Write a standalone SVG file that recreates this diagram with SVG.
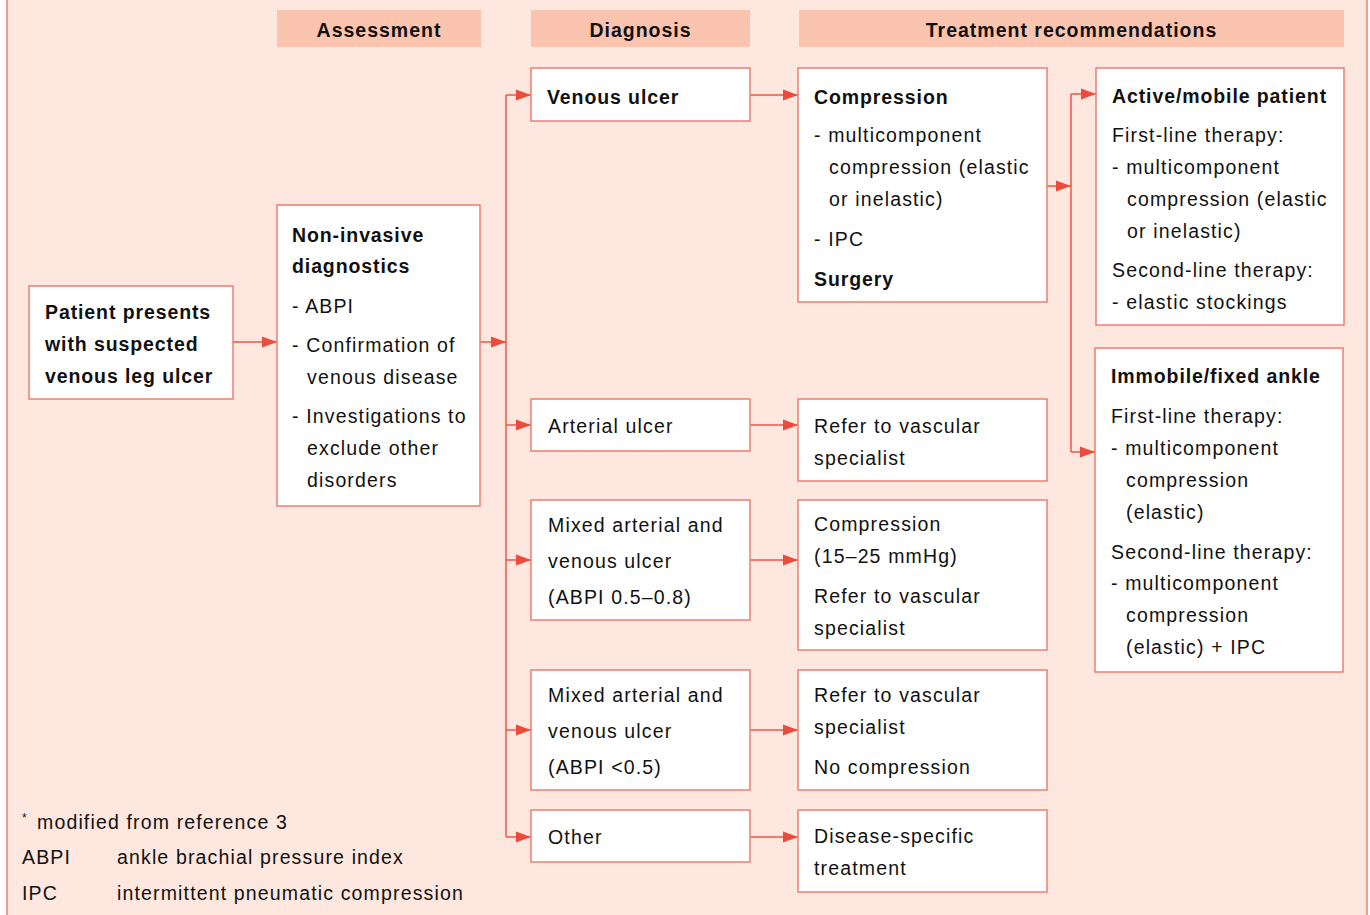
<svg xmlns="http://www.w3.org/2000/svg" width="1370" height="915" viewBox="0 0 1370 915">
<defs>
<marker id="ah" markerUnits="userSpaceOnUse" markerWidth="15" markerHeight="12" refX="15" refY="6" orient="auto">
<path d="M0,0.5 L15,6 L0,11.5 z" fill="#EB4B3C"/>
</marker>
<style>
text{font-family:"Liberation Sans",Arial,sans-serif;font-size:19.5px;letter-spacing:1.15px;fill:#111;}
.b{font-weight:bold;letter-spacing:0.9px;}
.box{fill:#fff;stroke:#F07C70;stroke-width:1.5;}
.hdr{fill:#FBC4AF;}
.c{fill:none;stroke:#EE5545;stroke-width:1.5;}
.ca{fill:none;stroke:#EE5545;stroke-width:1.5;marker-end:url(#ah);}
.h{text-anchor:middle;font-weight:bold;letter-spacing:1px;}
</style>
</defs>
<rect x="0" y="0" width="1370" height="915" fill="#fff"/>
<rect x="7" y="-5" width="1360" height="930" fill="#FDE7DE" stroke="#F07C70" stroke-width="1.5"/>

<g id="headers">
<rect class="hdr" x="277" y="10" width="204" height="37"/>
<text class="h" x="379" y="36.5">Assessment</text>
<rect class="hdr" x="531" y="10" width="219" height="37"/>
<text class="h" x="640.5" y="36.5">Diagnosis</text>
<rect class="hdr" x="799" y="10" width="545" height="37"/>
<text class="h" x="1071.5" y="36.5">Treatment recommendations</text>
</g>

<g id="connectors">
<line class="ca" x1="233" y1="342" x2="277" y2="342"/>
<line class="ca" x1="480" y1="342" x2="506" y2="342"/>
<line class="c" x1="506" y1="95" x2="506" y2="837"/>
<line class="ca" x1="506" y1="95" x2="531" y2="95"/>
<line class="ca" x1="506" y1="425" x2="531" y2="425"/>
<line class="ca" x1="506" y1="560" x2="531" y2="560"/>
<line class="ca" x1="506" y1="730" x2="531" y2="730"/>
<line class="ca" x1="506" y1="837" x2="531" y2="837"/>
<line class="ca" x1="750" y1="95" x2="798" y2="95"/>
<line class="ca" x1="750" y1="425" x2="798" y2="425"/>
<line class="ca" x1="750" y1="560" x2="798" y2="560"/>
<line class="ca" x1="750" y1="730" x2="798" y2="730"/>
<line class="ca" x1="750" y1="837" x2="798" y2="837"/>
<line class="ca" x1="1047" y1="186" x2="1071" y2="186"/>
<line class="c" x1="1071" y1="94" x2="1071" y2="452"/>
<line class="ca" x1="1071" y1="94" x2="1096" y2="94"/>
<line class="ca" x1="1071" y1="452" x2="1095" y2="452"/>
</g>

<g id="patient">
<rect class="box" x="29" y="286" width="204" height="113"/>
<text class="b" x="45" y="319">Patient presents</text>
<text class="b" x="45" y="351">with suspected</text>
<text class="b" x="45" y="383">venous leg ulcer</text>
</g>

<g id="noninvasive">
<rect class="box" x="277" y="205" width="203" height="301"/>
<text class="b" x="292" y="241.5">Non-invasive</text>
<text class="b" x="292" y="273">diagnostics</text>
<text x="292" y="312.5">- ABPI</text>
<text x="292" y="352">- Confirmation of</text>
<text x="307" y="383.5">venous disease</text>
<text x="292" y="423">- Investigations to</text>
<text x="307" y="455">exclude other</text>
<text x="307" y="487">disorders</text>
</g>

<g id="venous">
<rect class="box" x="531" y="68" width="219" height="53"/>
<text class="b" x="547" y="104">Venous ulcer</text>
</g>

<g id="arterial">
<rect class="box" x="531" y="399" width="219" height="52"/>
<text x="548" y="433">Arterial ulcer</text>
</g>

<g id="mixed1">
<rect class="box" x="531" y="500" width="219" height="120"/>
<text x="548" y="532">Mixed arterial and</text>
<text x="548" y="568">venous ulcer</text>
<text x="548" y="604">(ABPI 0.5–0.8)</text>
</g>

<g id="mixed2">
<rect class="box" x="531" y="670" width="219" height="120"/>
<text x="548" y="702">Mixed arterial and</text>
<text x="548" y="738">venous ulcer</text>
<text x="548" y="774">(ABPI &lt;0.5)</text>
</g>

<g id="other">
<rect class="box" x="531" y="810" width="219" height="52"/>
<text x="548" y="844">Other</text>
</g>

<g id="compression">
<rect class="box" x="798" y="68" width="249" height="234"/>
<text class="b" x="814" y="104">Compression</text>
<text x="814" y="142">- multicomponent</text>
<text x="829" y="174">compression (elastic</text>
<text x="829" y="206">or inelastic)</text>
<text x="814" y="246">- IPC</text>
<text class="b" x="814" y="286">Surgery</text>
</g>

<g id="refer1">
<rect class="box" x="798" y="399" width="249" height="82"/>
<text x="814" y="433">Refer to vascular</text>
<text x="814" y="465">specialist</text>
</g>

<g id="compression2">
<rect class="box" x="798" y="500" width="249" height="150"/>
<text x="814" y="531">Compression</text>
<text x="814" y="563">(15–25 mmHg)</text>
<text x="814" y="603">Refer to vascular</text>
<text x="814" y="635">specialist</text>
</g>

<g id="refer2">
<rect class="box" x="798" y="670" width="249" height="120"/>
<text x="814" y="702">Refer to vascular</text>
<text x="814" y="734">specialist</text>
<text x="814" y="774">No compression</text>
</g>

<g id="disease">
<rect class="box" x="798" y="810" width="249" height="82"/>
<text x="814" y="843">Disease-specific</text>
<text x="814" y="875">treatment</text>
</g>

<g id="active">
<rect class="box" x="1096" y="68" width="248" height="257"/>
<text class="b" x="1112" y="102.5">Active/mobile patient</text>
<text x="1112" y="141.5">First-line therapy:</text>
<text x="1112" y="173.5">- multicomponent</text>
<text x="1127" y="206">compression (elastic</text>
<text x="1127" y="238">or inelastic)</text>
<text x="1112" y="276.5">Second-line therapy:</text>
<text x="1112" y="308.5">- elastic stockings</text>
</g>

<g id="immobile">
<rect class="box" x="1095" y="348" width="248" height="324"/>
<text class="b" x="1111" y="382.5">Immobile/fixed ankle</text>
<text x="1111" y="422.5">First-line therapy:</text>
<text x="1111" y="455">- multicomponent</text>
<text x="1126" y="486.5">compression</text>
<text x="1126" y="518.5">(elastic)</text>
<text x="1111" y="558.5">Second-line therapy:</text>
<text x="1111" y="590">- multicomponent</text>
<text x="1126" y="621.5">compression</text>
<text x="1126" y="653.5">(elastic) + IPC</text>
</g>

<g id="footnote">
<text x="22" y="822" style="font-size:12px;letter-spacing:0">*</text>
<text x="37" y="829">modified from reference 3</text>
<text x="22" y="864">ABPI</text>
<text x="117" y="864">ankle brachial pressure index</text>
<text x="22" y="900">IPC</text>
<text x="117" y="900">intermittent pneumatic compression</text>
</g>
</svg>
